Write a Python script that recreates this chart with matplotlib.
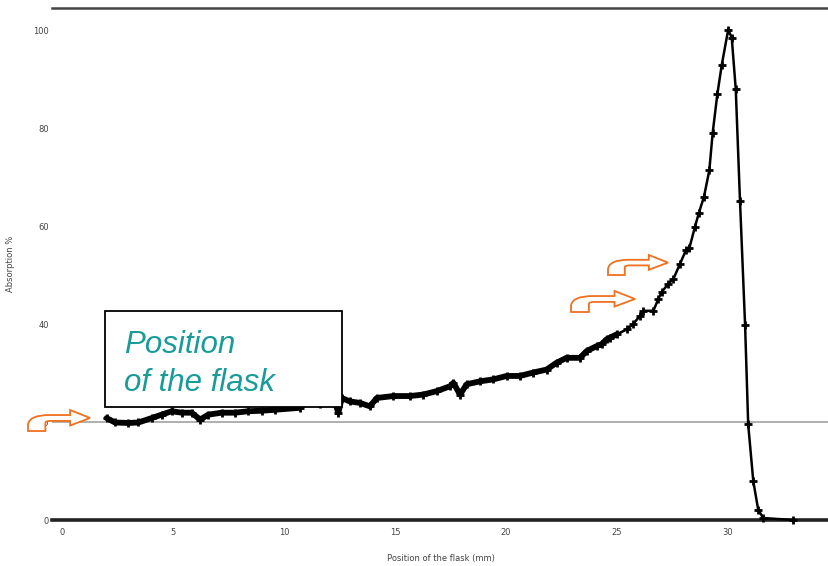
import matplotlib
matplotlib.use("Agg")
import matplotlib.pyplot as plt
import numpy as np
from matplotlib.path import Path
from matplotlib.patches import PathPatch, Rectangle

# ---- data ----
position = [2.01, 2.39, 2.99, 3.44, 4.04, 4.49, 4.94, 5.39, 5.84, 6.22, 6.59, 7.19,
            7.79, 8.39, 8.99, 9.59, 10.72, 10.87, 11.62, 12.30, 12.45, 12.60, 12.97,
            13.42, 13.87, 14.18, 14.92, 15.68, 16.27, 16.88, 17.48, 17.63, 17.93,
            18.23, 18.83, 19.43, 20.03, 20.63, 21.23, 21.83, 22.28, 22.73, 23.33,
            23.64, 24.09, 24.31, 24.54, 24.68, 24.99, 25.44, 25.73, 26.04, 26.18,
            26.64, 26.86, 27.01, 27.31, 27.54, 27.84, 28.11, 28.26, 28.51, 28.69,
            28.92, 29.16, 29.31, 29.52, 29.72, 30.01, 30.17, 30.35, 30.54, 30.77,
            30.91, 31.14, 31.36, 31.59, 32.94]
absorption = [20.8, 19.9, 19.8, 19.9, 20.8, 21.5, 22.2, 21.9, 21.9, 20.5, 21.5, 21.9,
              21.9, 22.2, 22.3, 22.5, 22.9, 23.9, 23.6, 23.9, 21.9, 24.9, 24.2,
              23.9, 23.2, 24.9, 25.3, 25.3, 25.6, 26.3, 27.3, 28.0, 25.6,
              27.7, 28.3, 28.7, 29.4, 29.4, 30.1, 30.7, 32.1, 33.1, 33.1,
              34.5, 35.5, 35.9, 36.9, 37.2, 37.9, 38.9, 40.0, 41.7, 42.7,
              42.7, 45.1, 46.5, 48.2, 49.2, 52.3, 55.1, 55.5, 59.8, 62.7,
              66.0, 71.4, 79.0, 86.9, 92.9, 100.1, 98.4, 87.9, 65.2, 39.8,
              19.5, 7.9, 2.1, 0.4, 0.0]
y_ticks = [0, 20, 40, 60, 80, 100]
x_ticks = [0, 5, 10, 15, 20, 25, 30]
x_label = "Position of the flask (mm)"
y_label = "Absorption %"
box_lines = ["Position", "of the flask"]

W, H = 829, 566
fig = plt.figure(figsize=(W / 100, H / 100), dpi=100)
fig.patch.set_facecolor("white")

def fx(px):
    return px / W

def fy(py):
    return 1 - py / H

ax = fig.add_axes([fx(52), fy(520), fx(829) - fx(52), fy(8) - fy(520)])
ax.set_xlim(-0.45, 34.55)
ax.set_ylim(0, 104.5)

x = np.array(position)
y = np.array(absorption)

# gridline at 20
ax.axhline(20, color="#9a9a9a", lw=1.1, zorder=1)

dense = x < 25.0
ax.plot(x[dense], y[dense], color="black", lw=4.2, solid_joinstyle="round",
        solid_capstyle="round", zorder=3)
ax.plot(x, y, color="black", lw=1.8, marker="+", ms=6, mew=2.0, zorder=4,
        clip_on=False)

for s in ["left", "right"]:
    ax.spines[s].set_visible(False)
ax.spines["top"].set_color("#444444")
ax.spines["top"].set_linewidth(1.8)
ax.spines["bottom"].set_color("#222222")
ax.spines["bottom"].set_linewidth(2.6)

ax.set_yticks(y_ticks)
ax.set_xticks(x_ticks)
ax.tick_params(length=0, labelsize=6, colors="#444444")
ax.tick_params(axis="x", pad=6)
ax.tick_params(axis="y", pad=2)
ax.set_xlabel(x_label, fontsize=6, color="#444444", labelpad=12)
ax.set_ylabel(y_label, fontsize=6, color="#444444", labelpad=13)

# text box
fig.add_artist(Rectangle((fx(105), fy(407)), fx(342) - fx(105), fy(311) - fy(407),
                         transform=fig.transFigure, facecolor="white",
                         edgecolor="black", lw=1.3, zorder=10))
teal = "#199c98"
fig.text(fx(124), fy(353), box_lines[0], fontsize=22.5, style="italic", color=teal,
         family="Liberation Sans", va="baseline", ha="left", zorder=11)
fig.text(fx(124), fy(391), box_lines[1], fontsize=22.5, style="italic", color=teal,
         family="Liberation Sans", va="baseline", ha="left", zorder=11)

# orange bent arrows (outline)
shape = [(0, 0), (0, 0.3), (0.02, 0.76), (0.34, 0.76), (0.68, 0.76), (0.68, 1.0),
         (1.0, 0.62), (0.68, 0.26), (0.68, 0.48), (0.36, 0.48), (0.28, 0.48),
         (0.28, 0.38), (0.28, 0), (0, 0)]
codes = [Path.MOVETO, Path.LINETO, Path.CURVE3, Path.CURVE3, Path.LINETO,
         Path.LINETO, Path.LINETO, Path.LINETO, Path.LINETO, Path.LINETO,
         Path.CURVE3, Path.CURVE3, Path.LINETO, Path.CLOSEPOLY]

def bent_arrow(left, bottom, w, h):
    verts = [(fx(left + u * w), fy(bottom - v * h)) for u, v in shape]
    p = PathPatch(Path(verts, codes), transform=fig.transFigure, facecolor="white",
                  edgecolor="#f07020", lw=1.3, zorder=12)
    fig.add_artist(p)

bent_arrow(28, 431, 62, 21)
bent_arrow(571, 312, 64, 21)
bent_arrow(608, 275, 60, 20)

fig.savefig("out.png", dpi=100, facecolor="white")
